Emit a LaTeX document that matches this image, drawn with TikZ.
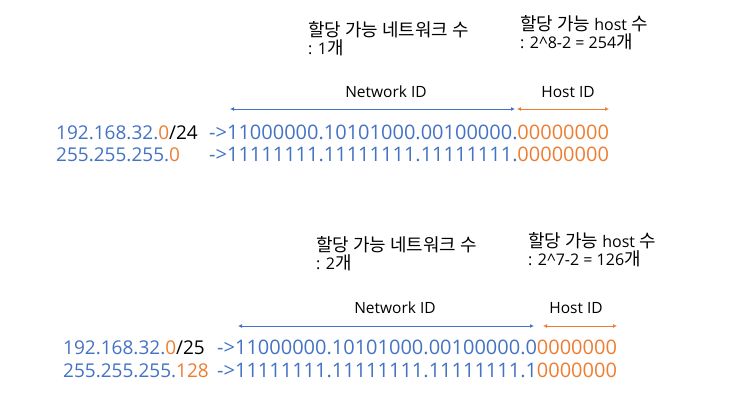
\documentclass[tikz,border=0pt]{standalone}
\usepackage{fontspec}
\setmainfont{Open Sans}
\newfontfamily\krfont{Noto Sans CJK KR}[Scale=1.12]
\usetikzlibrary{arrows.meta}
\definecolor{ipblue}{HTML}{4472C4}
\definecolor{iporange}{HTML}{ED7D31}
\newcommand{\hg}[1]{{\krfont #1}}
\newcommand{\bl}[1]{\textcolor{ipblue}{#1}}
\newcommand{\og}[1]{\textcolor{iporange}{#1}}

\begin{document}
\begin{tikzpicture}[x=1pt, y=-1pt,
   every node/.style={inner sep=0pt, anchor=base west},
   ip/.style={font=\fontsize{19}{24}\selectfont},
   bits/.style={font=\fontsize{20}{24}\selectfont},
   lbl/.style={font=\fontsize{16}{18}\selectfont, align=left},
   idtag/.style={font=\fontsize{15.5}{18}\selectfont, anchor=base},
   span/.style={{Latex[length=4pt,width=4pt]}-{Latex[length=4pt,width=4pt]}, line width=.8pt}]
 \useasboundingbox (0,0) rectangle (732,403);
 % /24
 \node (nq1) [lbl] at (308,55) {\hg{할당 가능 네트워크 수}\\: 1\hg{개}};
 \node (hq1) [lbl] at (520,49) {\hg{할당 가능} host \hg{수}\\: 2\textasciicircum8-2 = 254\hg{개}};
 \node (nid1) [idtag] at (386,98) {Network ID};
 \node (hid1) [idtag] at (568,98) {Host ID};
 \coordinate (ns1) at (230,109);
 \coordinate (ne1) at (515,109);
 \coordinate (hs1) at (517,109);
 \coordinate (he1) at (609,109);
 \draw [span, ipblue] (ns1) -- (ne1);
 \draw [span, iporange] (hs1) -- (he1);
 \node (ip1) [ip] at (56,140) {\bl{192.168.32.}\og{0}/24};
 \node (ipb1) [bits] at (209,140) {\bl{->11000000.10101000.00100000.}\og{00000000}};
 \node (mk1) [ip] at (56,162) {\bl{255.255.255.}\og{0}};
 \node (mkb1) [bits] at (209,162) {\bl{->11111111.11111111.11111111.}\og{00000000}};
 % /25
 \node (nq2) [lbl] at (316,270) {\hg{할당 가능 네트워크 수}\\: 2\hg{개}};
 \node (hq2) [lbl] at (528,266) {\hg{할당 가능} host \hg{수}\\: 2\textasciicircum7-2 = 126\hg{개}};
 \node (nid2) [idtag] at (395,314) {Network ID};
 \node (hid2) [idtag] at (576,314) {Host ID};
 \coordinate (ns2) at (238,326);
 \coordinate (ne2) at (534,326);
 \coordinate (hs2) at (543,326);
 \coordinate (he2) at (617,326);
 \draw [span, ipblue] (ns2) -- (ne2);
 \draw [span, iporange] (hs2) -- (he2);
 \node (ip2) [ip] at (63,355) {\bl{192.168.32.}\og{0}/25};
 \node (ipb2) [bits] at (217,355) {\bl{->11000000.10101000.00100000.0}\og{0000000}};
 \node (mk2) [ip] at (63,378) {\bl{255.255.255.}\og{128}};
 \node (mkb2) [bits] at (217,378) {\bl{->11111111.11111111.11111111.1}\og{0000000}};
\end{tikzpicture}
\end{document}
